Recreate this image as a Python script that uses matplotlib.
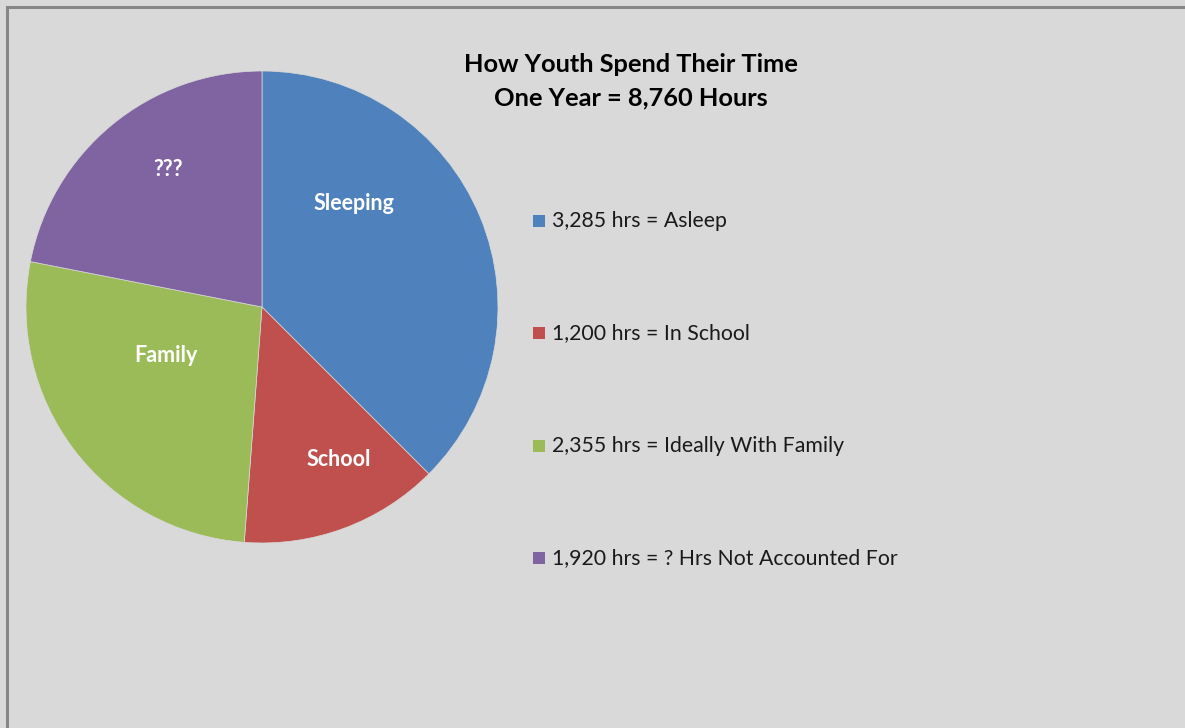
import matplotlib
matplotlib.use("Agg")
import matplotlib.pyplot as plt
from matplotlib.patches import Rectangle

categories = ["Sleeping", "School", "Family", "???"]
hours = [3285, 1200, 2355, 1920]
legend_labels = ["3,285 hrs = Asleep", "1,200 hrs = In School",
                 "2,355 hrs = Ideally With Family", "1,920 hrs = ? Hrs Not Accounted For"]
colors = ["#4f81bd", "#c0504d", "#9bbb59", "#8064a2"]
title_lines = ["How Youth Spend Their Time", "One Year = 8,760 Hours"]

W, H = 1185, 728
fig = plt.figure(figsize=(W / 100, H / 100), dpi=100)
fig.patch.set_facecolor("#d9d9d9")
plt.rcParams['font.family'] = ['Lato', 'DejaVu Sans']

# border
fig.add_artist(plt.Line2D([7 / W, 7 / W], [0, 1 - 7 / H], color="#878787", lw=2.2, transform=fig.transFigure))
fig.add_artist(plt.Line2D([7 / W, 1], [1 - 7 / H, 1 - 7 / H], color="#878787", lw=2.2, transform=fig.transFigure))

cx, cy, r = 262, 307, 236
ax = fig.add_axes([(cx - r) / W, (H - cy - r) / H, 2 * r / W, 2 * r / H])
ax.set_facecolor("none")
wedges, _ = ax.pie(hours, colors=colors, startangle=90, counterclock=False, radius=1,
                   wedgeprops=dict(linewidth=0.5, edgecolor="#d9d9d9"))
ax.set_xlim(-1, 1)
ax.set_ylim(-1, 1)
ax.set_aspect("equal")
ax.axis("off")

label_pos = [(354, 203), (339, 460), (166, 355), (168, 170)]
for cat, (px, py) in zip(categories, label_pos):
    x, y = ax.transData.inverted().transform(fig.transFigure.transform((px / W, 1 - py / H)))
    ax.text(x, y, cat, ha="center", va="center", color="white", fontsize=15.5, fontweight="bold")

fig.text(631 / W, 1 - 64 / H, title_lines[0], ha="center", va="center", fontsize=18.3, fontweight="bold")
fig.text(631 / W, 1 - 98 / H, title_lines[1], ha="center", va="center", fontsize=18.3, fontweight="bold")

leg_y = [221, 333, 446, 558]
for lab, col, y in zip(legend_labels, colors, leg_y):
    fig.add_artist(Rectangle((533 / W, 1 - (y + 6) / H), 12 / W, 12 / H, facecolor=col,
                             edgecolor="none", transform=fig.transFigure))
    fig.text(552 / W, 1 - y / H, lab, ha="left", va="center", fontsize=15.3, color="#1a1a1a")

fig.savefig("out.png", dpi=100, facecolor=fig.get_facecolor())
